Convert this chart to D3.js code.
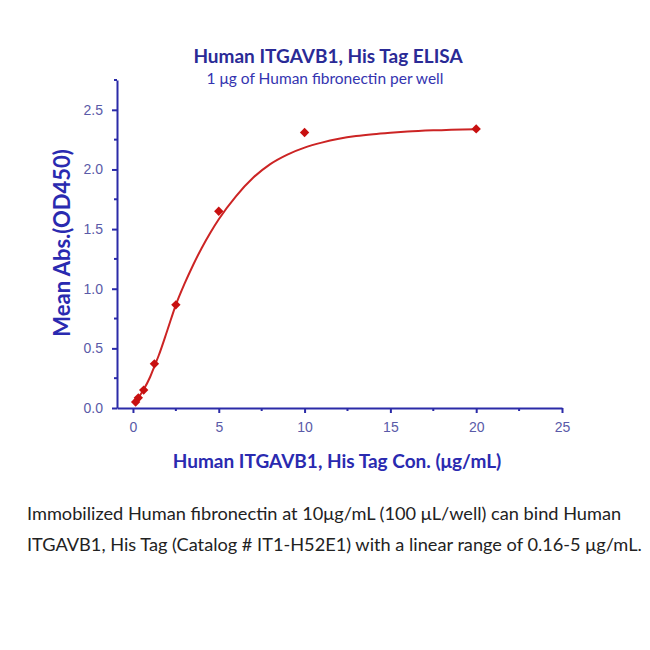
<!DOCTYPE html>
<html><head><meta charset="utf-8">
<script src="https://cdn.jsdelivr.net/npm/d3@7"></script>
<style>body{margin:0;background:#fff}</style>
</head><body>
<script>
const concentrations = [20, 10, 5, 2.5, 1.25, 0.625, 0.3125, 0.156];
const absorbance = [2.34, 2.31, 1.65, 0.865, 0.37, 0.15, 0.085, 0.05];
const curveX = [0.156, 0.3125, 0.625, 1, 1.25, 1.5, 2, 2.5, 3, 3.5, 4, 4.5, 5, 6, 7, 8, 9, 10, 11, 12, 13, 14, 15, 16, 17.5, 20];
const curveY = [0.05, 0.085, 0.155, 0.26, 0.35, 0.44, 0.65, 0.865, 1.04, 1.197, 1.34, 1.468, 1.583, 1.775, 1.93, 2.045, 2.125, 2.183, 2.225, 2.257, 2.28, 2.296, 2.308, 2.318, 2.328, 2.338];
const xTicks = [0, 5, 10, 15, 20, 25];
const yTicks = [0, 0.5, 1.0, 1.5, 2.0, 2.5];

const W = 650, H = 650;
const svg = d3.select("body").append("svg").attr("width", W).attr("height", H)
  .style("font-family", "Lato, 'Open Sans', sans-serif");

const x = d3.scaleLinear().domain([-0.93, 25]).range([117, 562]);
const y = d3.scaleLinear().domain([0, 2.75]).range([408, 80]);
const axisColor = "#2b2ba8";
const tickText = "#5a5aa8";

const gx = svg.append("g").attr("transform", "translate(0,408)")
  .call(d3.axisBottom(x).tickValues(xTicks).tickFormat(d3.format("d")).tickSize(5).tickPadding(9).tickSizeOuter(0));
const gy = svg.append("g").attr("transform", "translate(117,0)")
  .call(d3.axisLeft(y).tickValues(yTicks).tickFormat(d3.format(".1f")).tickSize(5).tickPadding(9).tickSizeOuter(0));
const xMinor = xTicks.slice(0, -1).map(d => d + 2.5);
const yMinor = yTicks.map(d => d + 0.25);
gx.selectAll(".minor").data(xMinor).enter().append("line").attr("class","minor")
  .attr("x1", d => x(d)).attr("x2", d => x(d)).attr("y1", 0).attr("y2", 3);
gy.selectAll(".minor").data(yMinor).enter().append("line").attr("class","minor")
  .attr("y1", d => y(d)).attr("y2", d => y(d)).attr("x1", 0).attr("x2", -3);
[gx, gy].forEach(g => {
  g.select(".domain").attr("stroke", axisColor).attr("stroke-width", 2);
  g.selectAll("line").attr("stroke", axisColor).attr("stroke-width", 2);
  g.selectAll("text").attr("fill", tickText).style("font-size", "14px");
});

// fitted curve
const line = d3.line().x(d => x(d[0])).y(d => y(d[1])).curve(d3.curveMonotoneX);
svg.append("path").datum(curveX.map((d, i) => [d, curveY[i]]))
  .attr("d", line).attr("fill", "none").attr("stroke", "#cc2424").attr("stroke-width", 2);

// points (diamonds)
svg.selectAll(".pt").data(concentrations.map((d, i) => [d, absorbance[i]])).enter()
  .append("path").attr("class", "pt")
  .attr("d", d3.symbol().type(d3.symbolSquare).size(44))
  .attr("transform", d => `translate(${x(d[0])},${y(d[1])}) rotate(45)`)
  .attr("fill", "#c81010");

// titles
svg.append("text").attr("x", 328).attr("y", 63).attr("text-anchor", "middle")
  .attr("fill", "#2a2a96").style("font-size", "19px").style("font-weight", "bold")
  .text("Human ITGAVB1, His Tag ELISA");
svg.append("text").attr("x", 325).attr("y", 84).attr("text-anchor", "middle")
  .attr("fill", "#3434b0").style("font-size", "15.5px")
  .text("1 μg of Human fibronectin per well");
svg.append("text").attr("transform", "translate(70,243) rotate(-90)").attr("text-anchor", "middle")
  .attr("fill", "#2a2ab0").style("font-size", "22px").style("font-weight", "bold")
  .text("Mean Abs.(OD450)");
svg.append("text").attr("x", 337).attr("y", 468).attr("text-anchor", "middle")
  .attr("fill", "#2a2ab0").style("font-size", "19px").style("font-weight", "bold")
  .text("Human ITGAVB1, His Tag Con. (μg/mL)");

// caption
const cap = ["Immobilized Human fibronectin at 10μg/mL (100 μL/well) can bind Human",
  "ITGAVB1, His Tag (Catalog # IT1-H52E1) with a linear range of 0.16-5 μg/mL."];
svg.selectAll(".cap").data(cap).enter().append("text")
  .attr("x", 27).attr("y", (d, i) => 520 + i * 31)
  .attr("fill", "#222").style("font-size", "18.2px").text(d => d);
</script>
</body></html>
